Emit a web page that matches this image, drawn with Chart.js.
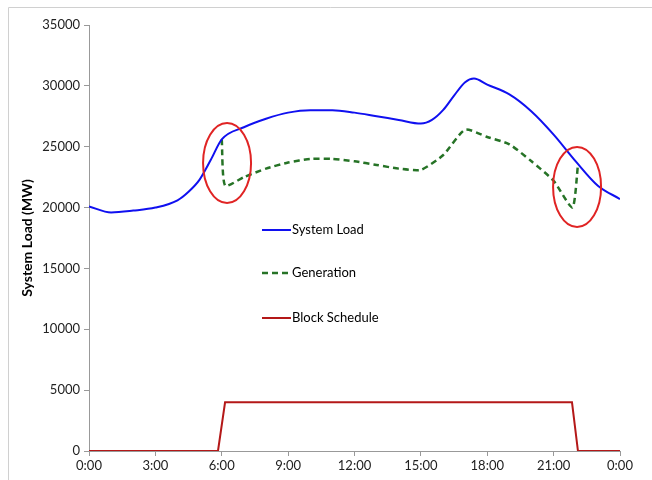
<!DOCTYPE html>
<html>
<head>
<meta charset="utf-8">
<script src="https://cdn.jsdelivr.net/npm/chart.js@4.4.0/dist/chart.umd.min.js"></script>
<style>
    html, body { margin: 0; padding: 0; background: #fff; }
    #wrap { width: 652px; height: 480px; position: relative; }
</style>
</head>
<body>
<div id="wrap"><canvas id="loadChart"></canvas></div>
<script>
// 數據 - 時間以小時表示 (0 ~ 24)
const loadHours = [0, 1, 2, 3, 4, 4.5, 5, 5.5, 6, 7, 8, 9, 10, 11, 12, 13, 14, 15, 15.5, 16, 16.5, 17, 17.4, 18, 19, 20, 21, 22, 23, 24];
const loadValues = [20100, 19600, 19750, 20000, 20600, 21300, 22300, 23900, 25600, 26600, 27300, 27800, 28000, 28000, 27800, 27500, 27200, 26900, 27200, 28000, 29200, 30300, 30600, 30100, 29300, 27900, 26000, 23800, 21800, 20700];

const genHours = [6, 6.15, 7, 8, 9, 10, 11, 12, 13, 14, 15, 16, 17, 18, 19, 20, 21, 21.85, 22.1];
const genValues = [25600, 21800, 22500, 23200, 23700, 24000, 24000, 23800, 23500, 23200, 23100, 24300, 26400, 25800, 25200, 23800, 22200, 20000, 23500];

const blockHours = [0, 5.83, 6.15, 21.83, 22.1, 24];
const blockValues = [0, 0, 4000, 4000, 0, 0];

const xTicks = [0, 3, 6, 9, 12, 15, 18, 21, 24];
const yTicks = [0, 5000, 10000, 15000, 20000, 25000, 30000, 35000];

// 紅色圈註 (中心: 小時, MW)
const circleHours = [6.24, 22.06];
const circleValues = [23660, 21700];

function toPoints(xs, ys) {
    return xs.map(function (x, i) { return { x: x, y: ys[i] }; });
}

const FONT = "Lato, 'Open Sans', sans-serif";

// 外框、圈註與圖例
const extrasPlugin = {
    id: 'extras',
    beforeDraw: function (chart) {
        const ctx = chart.ctx;
        ctx.save();
        ctx.strokeStyle = '#d0d0d0';
        ctx.lineWidth = 1;
        ctx.beginPath();
        ctx.moveTo(8.5, 480);
        ctx.lineTo(8.5, 7.5);
        ctx.lineTo(652, 7.5);
        ctx.stroke();
        ctx.restore();
    },
    afterDraw: function (chart) {
        const ctx = chart.ctx;
        const xs = chart.scales.x;
        const ys = chart.scales.y;
        ctx.save();
        // 圈註
        ctx.strokeStyle = '#e02424';
        ctx.lineWidth = 2;
        circleHours.forEach(function (h, i) {
            ctx.beginPath();
            ctx.ellipse(xs.getPixelForValue(h), ys.getPixelForValue(circleValues[i]), 24, 40, 0, 0, Math.PI * 2);
            ctx.stroke();
        });
        // 圖例
        const left = 262;
        const rows = [230, 273, 318];
        ctx.font = '13px ' + FONT;
        ctx.textBaseline = 'middle';
        ctx.fillStyle = '#000';
        chart.data.datasets.forEach(function (ds, i) {
            const y = rows[i];
            ctx.strokeStyle = ds.borderColor;
            ctx.lineWidth = ds.borderWidth;
            ctx.setLineDash(ds.borderDash || []);
            ctx.beginPath();
            ctx.moveTo(left, y);
            ctx.lineTo(left + 29, y);
            ctx.stroke();
            ctx.setLineDash([]);
            ctx.fillText(ds.label, left + 30, y);
        });
        ctx.restore();
    }
};

new Chart(document.getElementById('loadChart'), {
    type: 'line',
    data: {
        datasets: [{
            label: 'System Load',
            data: toPoints(loadHours, loadValues),
            borderColor: '#1010f0',
            borderWidth: 2,
            pointRadius: 0,
            cubicInterpolationMode: 'monotone',
            order: 0
        }, {
            label: 'Generation',
            data: toPoints(genHours, genValues),
            borderColor: '#267326',
            borderWidth: 2.5,
            borderDash: [6, 4],
            pointRadius: 0,
            tension: 0.2,
            order: 1
        }, {
            label: 'Block Schedule',
            data: toPoints(blockHours, blockValues),
            borderColor: '#b41818',
            borderWidth: 2,
            pointRadius: 0,
            tension: 0,
            order: 2
        }]
    },
    options: {
        responsive: true,
        maintainAspectRatio: false,
        animation: false,
        layout: { padding: { top: 25, right: 32, left: 0, bottom: 0 } },
        plugins: {
            legend: { display: false },
            tooltip: { enabled: false }
        },
        scales: {
            x: {
                type: 'linear',
                min: 0,
                max: 24,
                afterBuildTicks: function (scale) {
                    scale.ticks = xTicks.map(function (v) { return { value: v }; });
                },
                afterFit: function (scale) { scale.height = 29; },
                ticks: {
                    color: '#222',
                    font: { family: FONT, size: 13 },
                    padding: 2,
                    maxRotation: 0,
                    callback: function (value) { return (value % 24) + ':00'; }
                },
                grid: { drawOnChartArea: false, drawTicks: true, tickLength: 5, color: '#999' },
                border: { display: true, color: '#999' }
            },
            y: {
                min: 0,
                max: 35000,
                afterBuildTicks: function (scale) {
                    scale.ticks = yTicks.map(function (v) { return { value: v }; });
                },
                afterFit: function (scale) { scale.width = 89; },
                ticks: {
                    color: '#222',
                    font: { family: FONT, size: 13 },
                    padding: 4,
                    callback: function (value) { return value; }
                },
                title: {
                    display: true,
                    text: 'System Load (MW)',
                    color: '#000',
                    font: { family: FONT, size: 14, weight: 'bold' },
                    padding: { top: 19, bottom: 0 }
                },
                grid: { drawOnChartArea: false, drawTicks: true, tickLength: 5, color: '#999' },
                border: { display: true, color: '#999' }
            }
        }
    },
    plugins: [extrasPlugin]
});
</script>
</body>
</html>
